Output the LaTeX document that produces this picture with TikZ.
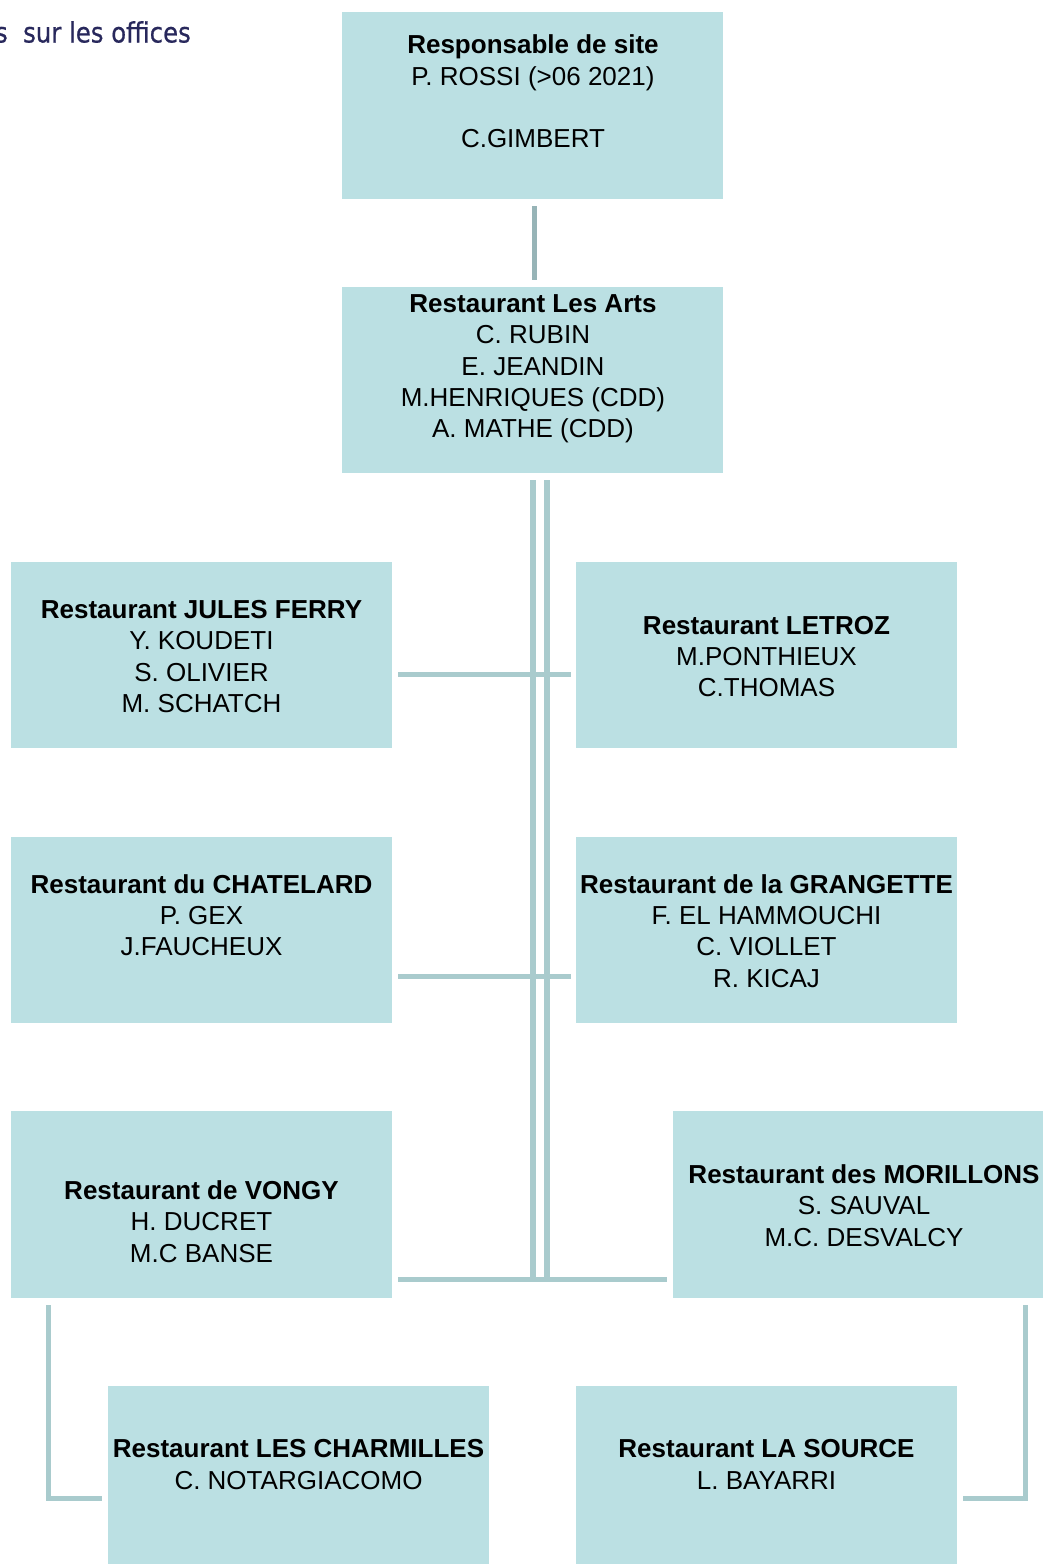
\documentclass[tikz,border=0pt]{standalone}
\usepackage{fontspec}
\setmainfont{Liberation Sans}
\newfontfamily\titlefont[FakeStretch=0.87,FakeBold=0.6]{DejaVu Sans}
\usetikzlibrary{calc}
\definecolor{boxfill}{HTML}{BBE0E3}
\definecolor{linec}{HTML}{A9CBCD}
\definecolor{linetop}{HTML}{97B4B7}
\definecolor{navy}{HTML}{28285C}
\begin{document}
\begin{tikzpicture}[x=1pt,y=-1pt,
  box/.style={fill=boxfill, draw=none, anchor=north west, inner sep=0pt, outer sep=0pt,
              minimum width=381pt, minimum height=186pt},
  txt/.style={align=center, font=\fontsize{26}{31.3}\selectfont, inner sep=0pt, text=black},
  conn/.style={draw=linec, line width=5pt},
  dconn/.style={draw=linec, line width=6pt},
  topconn/.style={draw=linetop, line width=5pt},
]
\useasboundingbox (0,0) rectangle (1043,1564);

% title fragment
\node[anchor=base east, inner sep=0pt, text=navy, font=\titlefont\fontsize{28}{32}\selectfont] (title) at (191,42.5) {s\ \ sur les offices};

% boxes
\node[box, minimum height=187pt] (top) at (342,12) {};
\node[box] (arts) at (342,287) {};
\node[box] (jf) at (11,562) {};
\node[box] (letroz) at (576,562) {};
\node[box] (chat) at (11,837) {};
\node[box] (grang) at (576,837) {};
\node[box, minimum height=187pt] (vongy) at (11,1111) {};
\node[box, minimum width=375pt, minimum height=187pt] (moril) at (673,1111) {};
\node[box, minimum height=190pt] (charm) at (108,1386) {};
\node[box, minimum height=190pt] (source) at (576,1386) {};

% texts
\node[txt] (ttop) at (533,91.5) {\textbf{Responsable de site}\\P. ROSSI (>06 2021)\\\mbox{}\\C.GIMBERT};
\node[txt] (tarts) at (533,369) {\textbf{Restaurant Les Arts}\\C. RUBIN\\E. JEANDIN\\M.HENRIQUES (CDD)\\A. MATHE (CDD)};
\node[txt] (tjf) at (201.5,656.5) {\textbf{Restaurant JULES FERRY}\\Y. KOUDETI\\S. OLIVIER\\M. SCHATCH};
\node[txt] (tletroz) at (766.5,656.5) {\textbf{Restaurant LETROZ}\\M.PONTHIEUX\\C.THOMAS};
\node[txt] (tchat) at (201.5,915) {\textbf{Restaurant du CHATELARD}\\P. GEX\\J.FAUCHEUX};
\node[txt] (tgrang) at (766.5,931) {\textbf{Restaurant de la GRANGETTE}\\F. EL HAMMOUCHI\\C. VIOLLET\\R. KICAJ};
\node[txt] (tvongy) at (201.5,1221.5) {\textbf{Restaurant de VONGY}\\H. DUCRET\\M.C BANSE};
\node[txt] (tmoril) at (864,1205.5) {\textbf{Restaurant des MORILLONS}\\S. SAUVAL\\M.C. DESVALCY};
\node[txt] (tcharm) at (298.5,1464.5) {\textbf{Restaurant LES CHARMILLES}\\C. NOTARGIACOMO};
\node[txt] (tsource) at (766.5,1464.5) {\textbf{Restaurant LA SOURCE}\\L. BAYARRI};

% connector coordinates
\coordinate (tl1) at ($(top.south)+(1.5,7)$);
\coordinate (tl2) at ($(arts.north)+(1.5,-7)$);
\coordinate (va1) at ($(arts.south)+(0,7)$);
\coordinate (va2) at ($(arts.south)+(14,7)$);
\coordinate (vb) at (0,1281);

% connectors
\draw[topconn] (tl1) -- (tl2);
\draw[dconn] (va1) -- (va1 |- vb);
\draw[dconn] (va2) -- (va2 |- vb);
\draw[conn] ($(jf.east)+(6,19)$) -- ($(letroz.west)+(-5,19)$);
\draw[conn] ($(chat.east)+(6,46)$) -- ($(grang.west)+(-5,46)$);
\draw[conn] ($(vongy.east)+(6,74.5)$) -- ($(moril.west)+(-6,74.5)$);
\draw[conn] ($(vongy.south west)+(37,7)$) -- ($(vongy.south west)+(37,200)$) -- ($(charm.west)+(-6,17)$);
\draw[conn] ($(moril.south west)+(352,7)$) -- ($(moril.south west)+(352,200)$) -- ($(source.east)+(6,17)$);
\end{tikzpicture}
\end{document}
